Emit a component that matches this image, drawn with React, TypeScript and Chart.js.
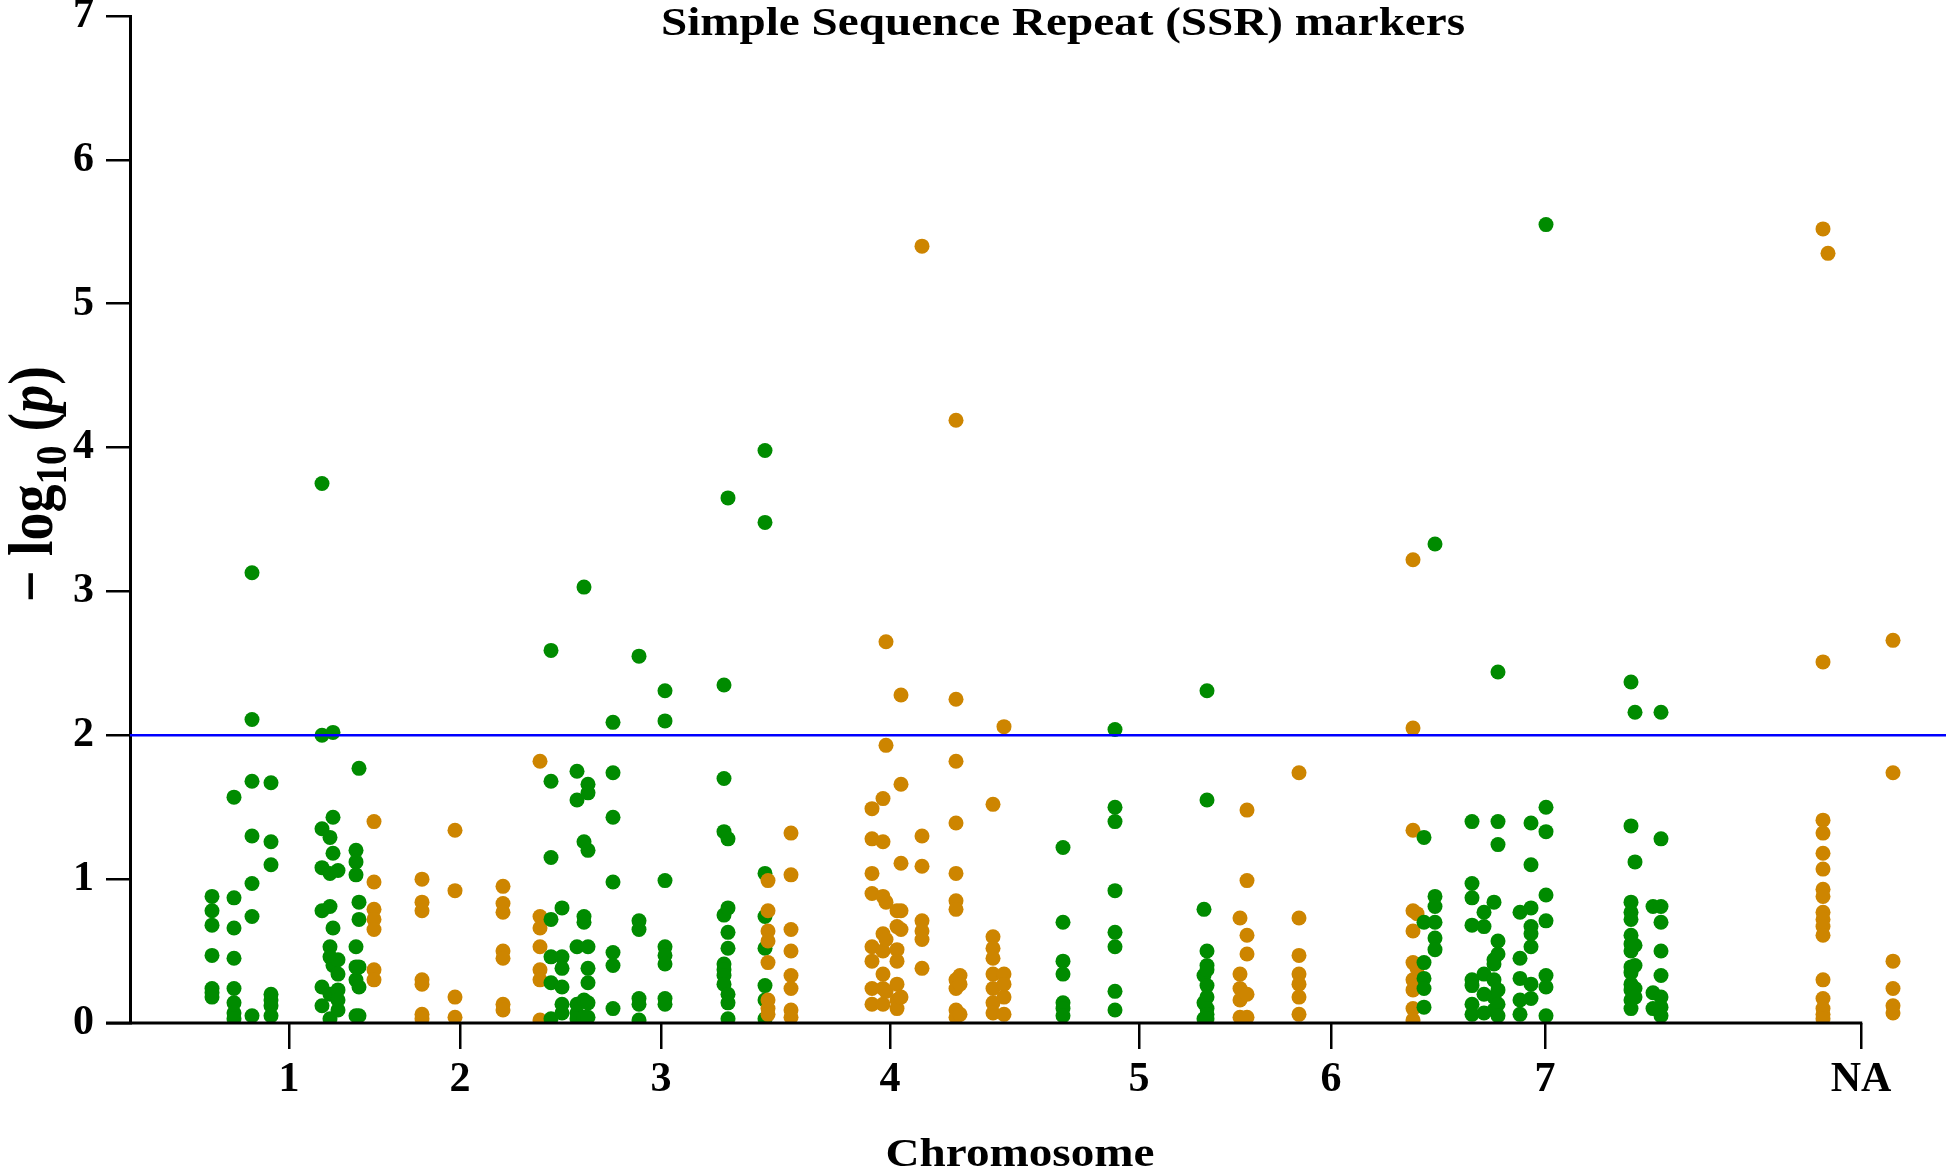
import React, { useEffect, useRef } from "react";
import { Chart, registerables } from "chart.js";

Chart.register(...registerables);

// ---- Data (x = cumulative marker position, y = -log10(p)) ----
const chromosomeLabels = ["1", "2", "3", "4", "5", "6", "7", "NA"];
const chromosomeTicks = [159, 330, 531, 760, 1009, 1201, 1415, 1731];
const axisEndPosition = 1731; // x-axis line ends at the NA tick
const plotRegionMax = 1816; // plotting region continues past the axis end
const threshold = 2;
const seriesColors = ["#008B00", "#CD8500"];

type Column = [number, number[]];

const chr1: Column[] = [
  [82, [0.88, 0.78, 0.68, 0.47, 0.24, 0.21, 0.18]],
  [104, [1.57, 0.87, 0.66, 0.45, 0.24, 0.14, 0.07, 0.03]],
  [122, [3.13, 2.11, 1.68, 1.3, 0.97, 0.74, 0.05]],
  [141, [1.67, 1.26, 1.1, 0.2, 0.16, 0.12, 0.05]],
  [192, [3.75, 2.0, 1.35, 1.08, 0.78, 0.25, 0.12]],
  [200, [1.29, 1.04, 0.81, 0.53, 0.46, 0.2, 0.03]],
  [203, [2.02, 1.43, 1.18, 0.66, 0.4]],
  [208, [1.06, 0.44, 0.34, 0.23, 0.16, 0.09]],
  [226, [1.2, 1.12, 1.03, 0.53, 0.39, 0.3, 0.05]],
  [229, [1.77, 0.84, 0.72, 0.39, 0.25, 0.05]],
];
const chr2: Column[] = [
  [244, [1.4, 0.98, 0.79, 0.72, 0.65, 0.37, 0.3]],
  [292, [1.0, 0.84, 0.78, 0.3, 0.27, 0.06, 0.03]],
  [325, [1.34, 0.92, 0.18, 0.04]],
  [373, [0.95, 0.83, 0.77, 0.5, 0.45, 0.13, 0.09]],
  [410, [1.82, 0.74, 0.66, 0.53, 0.37, 0.3, 0.02]],
];
const chr3: Column[] = [
  [421, [2.59, 1.68, 1.15, 0.72, 0.46, 0.28, 0.03]],
  [432, [0.8, 0.46, 0.38, 0.25, 0.13, 0.07]],
  [447, [1.75, 1.55, 0.53, 0.13, 0.07, 0.03]],
  [454, [3.03, 1.26, 0.74, 0.7, 0.16, 0.04]],
  [458, [1.66, 1.6, 1.2, 0.53, 0.38, 0.28, 0.14, 0.04]],
  [483, [2.09, 1.74, 1.43, 0.98, 0.49, 0.4, 0.1]],
  [509, [2.55, 0.71, 0.65, 0.17, 0.13, 0.02]],
  [535, [2.31, 2.1, 0.99, 0.53, 0.47, 0.41, 0.17, 0.13]],
  [594, [2.35, 1.7, 1.33, 0.75, 0.41, 0.37, 0.33, 0.27]],
  [598, [3.65, 1.28, 0.8, 0.63, 0.52, 0.2, 0.14, 0.03]],
  [635, [3.98, 3.48, 1.04, 0.74, 0.52, 0.26, 0.16, 0.03]],
];
const chr4: Column[] = [
  [638, [0.99, 0.78, 0.64, 0.57, 0.42, 0.16, 0.1, 0.06]],
  [661, [1.32, 1.03, 0.65, 0.5, 0.33, 0.24, 0.09, 0.04]],
  [742, [1.49, 1.28, 1.04, 0.9, 0.53, 0.43, 0.24, 0.13]],
  [753, [1.56, 1.26, 0.88, 0.62, 0.5, 0.34, 0.24, 0.13]],
  [756, [2.65, 1.93, 0.84, 0.58, 0.22]],
  [767, [0.78, 0.67, 0.51, 0.43, 0.27, 0.16, 0.1]],
  [771, [2.28, 1.66, 1.11, 0.78, 0.65, 0.18]],
  [792, [5.4, 1.3, 1.09, 0.71, 0.64, 0.58, 0.38]],
  [826, [4.19, 2.25, 1.82, 1.39, 1.04, 0.85, 0.79, 0.3, 0.24, 0.09, 0.04]],
  [830, [0.33, 0.27, 0.06]],
  [863, [1.52, 0.6, 0.52, 0.45, 0.34, 0.24, 0.14, 0.07]],
  [874, [2.06, 0.34, 0.27, 0.18, 0.06]],
];
const chr5: Column[] = [
  [933, [1.22, 0.7, 0.43, 0.34, 0.14, 0.1, 0.05]],
  [985, [2.04, 1.5, 1.4, 0.92, 0.63, 0.53, 0.22, 0.09]],
  [1074, [0.79, 0.33, 0.14, 0.03]],
  [1077, [2.31, 1.55, 0.5, 0.4, 0.37, 0.26, 0.18, 0.1, 0.06, 0.03]],
];
const chr6: Column[] = [
  [1110, [0.73, 0.34, 0.24, 0.16, 0.04]],
  [1117, [1.48, 0.99, 0.61, 0.48, 0.2, 0.04]],
  [1169, [1.74, 0.73, 0.47, 0.34, 0.27, 0.18, 0.06]],
  [1283, [3.22, 2.05, 1.34, 0.78, 0.64, 0.42, 0.3, 0.23, 0.1, 0.02]],
  [1287, [0.76, 0.38]],
];
const chr7: Column[] = [
  [1294, [1.29, 0.7, 0.42, 0.31, 0.24, 0.11]],
  [1305, [3.33, 0.88, 0.81, 0.7, 0.59, 0.51]],
  [1342, [1.4, 0.97, 0.87, 0.68, 0.3, 0.26, 0.13, 0.06]],
  [1354, [0.77, 0.67, 0.34, 0.2, 0.07]],
  [1364, [0.84, 0.44, 0.41, 0.3, 0.18, 0.09]],
  [1368, [2.44, 1.4, 1.24, 0.57, 0.48, 0.23, 0.13, 0.05]],
  [1390, [0.77, 0.45, 0.31, 0.16, 0.06]],
  [1401, [1.39, 1.1, 0.8, 0.67, 0.62, 0.53, 0.27, 0.17]],
  [1416, [5.55, 1.5, 1.33, 0.89, 0.71, 0.33, 0.25, 0.05]],
  [1501, [2.37, 1.37, 0.84, 0.77, 0.72, 0.61, 0.55, 0.5, 0.39, 0.35, 0.27, 0.23, 0.16, 0.1]],
  [1505, [2.16, 1.12, 0.54, 0.4, 0.24, 0.18]],
  [1523, [0.81, 0.21, 0.1]],
  [1531, [2.16, 1.28, 0.81, 0.7, 0.5, 0.33, 0.18, 0.11, 0.05]],
];
const chrNA: Column[] = [
  [1693, [5.52, 2.51, 1.41, 1.32, 1.18, 1.07, 0.93, 0.88, 0.77, 0.72, 0.67, 0.61, 0.3, 0.17, 0.1, 0.06, 0.03]],
  [1698, [5.35]],
  [1763, [2.66, 1.74, 0.43, 0.24, 0.12, 0.07]],
];

const chromosomeData = [chr1, chr2, chr3, chr4, chr5, chr6, chr7, chrNA];

const TITLE = "Simple Sequence Repeat (SSR) markers";
const X_TITLE = "Chromosome";
const FONT = '"Liberation Serif", "Times New Roman", Times, serif';
const STRETCH = 1.15;

function toPoints(cols: Column[]) {
  return cols.flatMap(([x, vals]) => vals.map((y) => ({ x, y })));
}

const textPlugin = {
  id: "customTexts",
  afterDatasetsDraw(chart: any) {
    const { ctx, chartArea, scales } = chart;
    // threshold line
    const yT = scales.y.getPixelForValue(threshold);
    ctx.save();
    ctx.strokeStyle = "#0000FF";
    ctx.lineWidth = 2.5;
    ctx.beginPath();
    ctx.moveTo(chartArea.left, yT);
    ctx.lineTo(chartArea.right, yT);
    ctx.stroke();
    // x-axis line, ending at the last (NA) tick
    const y0 = scales.y.getPixelForValue(0);
    ctx.strokeStyle = "#000";
    ctx.lineWidth = 3;
    ctx.beginPath();
    ctx.moveTo(chartArea.left - 24, y0);
    ctx.lineTo(scales.x.getPixelForValue(axisEndPosition) + 1.25, y0);
    ctx.stroke();
    ctx.restore();
  },
  afterDraw(chart: any) {
    const { ctx } = chart;
    ctx.save();
    ctx.fillStyle = "#000";
    ctx.textAlign = "center";
    ctx.textBaseline = "alphabetic";
    ctx.font = `bold 41px ${FONT}`;
    const stretched = (t: string, x: number, y: number) => {
      ctx.save();
      ctx.translate(x, y);
      ctx.scale(STRETCH, 1);
      ctx.fillText(t, 0, 0);
      ctx.restore();
    };
    stretched(TITLE, 1063, 35);
    stretched(X_TITLE, 1020, 1166);

    // y-axis title: − log10 (p)
    const S = 56;
    const parts = [
      { t: "\u2212 log", f: `bold ${S}px ${FONT}`, dy: 0 },
      { t: "10", f: `bold ${Math.round(S * 0.7)}px ${FONT}`, dy: Math.round(S * 0.22) },
      { t: " (", f: `bold ${S}px ${FONT}`, dy: 0 },
      { t: "p", f: `italic bold ${S}px ${FONT}`, dy: 0 },
      { t: ")", f: `bold ${S}px ${FONT}`, dy: 0 },
    ];
    let total = 0;
    const widths = parts.map((p) => {
      ctx.font = p.f;
      const w = ctx.measureText(p.t).width;
      total += w;
      return w;
    });
    ctx.save();
    ctx.translate(52, 484);
    ctx.scale(STRETCH, 1);
    ctx.rotate(-Math.PI / 2);
    ctx.textAlign = "left";
    let cx = -total / 2;
    parts.forEach((p, i) => {
      ctx.font = p.f;
      ctx.fillText(p.t, cx, p.dy);
      cx += widths[i];
    });
    ctx.restore();
    ctx.restore();
  },
};

export default function App() {
  const ref = useRef<HTMLCanvasElement | null>(null);

  useEffect(() => {
    document.body.style.margin = "0";
    const canvas = ref.current;
    if (!canvas) return;
    const datasets: any[] = chromosomeData.map((cols, i) => ({
      label: chromosomeLabels[i],
      data: toPoints(cols),
      backgroundColor: seriesColors[i % 2],
      borderWidth: 0,
      pointRadius: 7.5,
      pointHoverRadius: 7.5,
      order: 20 - i,
      clip: { left: false, top: false, right: false, bottom: 0 },
    }));

    const chart = new Chart(canvas, {
      type: "scatter",
      data: { datasets },
      plugins: [textPlugin],
      options: {
        animation: false,
        responsive: false,
        devicePixelRatio: 1,
        layout: { autoPadding: false, padding: { left: 0, right: 0, top: 16, bottom: 0 } },
        plugins: {
          legend: { display: false },
          tooltip: { enabled: false },
          title: { display: false },
        },
        scales: {
          x: {
            type: "linear",
            min: 0,
            max: plotRegionMax,
            afterBuildTicks: (scale: any) => {
              scale.ticks = chromosomeTicks.map((v) => ({ value: v }));
            },
            afterFit: (scale: any) => {
              scale.height = 150;
              scale.paddingLeft = 0;
              scale.paddingRight = 0;
            },
            ticks: {
              autoSkip: false,
              maxRotation: 0,
              padding: 6,
              color: "#000",
              font: { family: FONT, size: 42, weight: "bold" },
              callback: (value: any) => {
                const idx = chromosomeTicks.indexOf(Number(value));
                return idx >= 0 ? chromosomeLabels[idx] : "";
              },
            },
            grid: {
              display: true,
              drawOnChartArea: false,
              drawTicks: true,
              tickLength: 26,
              color: "#000",
              lineWidth: 2.5,
            },
            border: { display: false },
          },
          y: {
            type: "linear",
            min: 0,
            max: 7,
            afterFit: (scale: any) => {
              scale.width = 130;
              scale.paddingTop = 0;
              scale.paddingBottom = 0;
            },
            ticks: {
              stepSize: 1,
              padding: 12,
              color: "#000",
              font: { family: FONT, size: 42, weight: "bold" },
            },
            grid: {
              display: true,
              drawOnChartArea: false,
              drawTicks: true,
              tickLength: 24,
              color: "#000",
              lineWidth: 2.5,
            },
            border: { display: true, color: "#000", width: 3 },
          },
        },
      },
    });
    return () => chart.destroy();
  }, []);

  return (
    <div style={{ width: 1946, height: 1173, background: "#fff" }}>
      <canvas ref={ref} width={1946} height={1173} style={{ display: "block" }} />
    </div>
  );
}
